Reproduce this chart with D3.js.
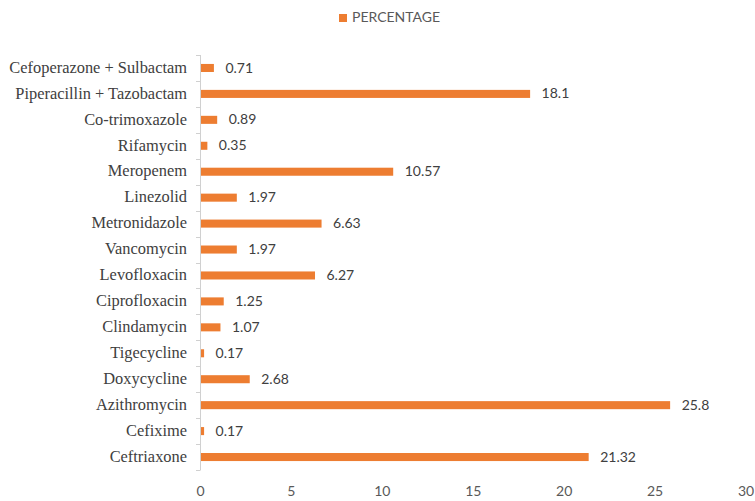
<!DOCTYPE html>
<html><head><meta charset="utf-8">
<script src="https://cdn.jsdelivr.net/npm/d3@7"></script>
<style>body{margin:0;background:#fff}</style>
</head><body>
<svg id="c" width="755" height="501"></svg>
<script>
const categories = ["Cefoperazone + Sulbactam","Piperacillin + Tazobactam","Co-trimoxazole","Rifamycin","Meropenem","Linezolid","Metronidazole","Vancomycin","Levofloxacin","Ciprofloxacin","Clindamycin","Tigecycline","Doxycycline","Azithromycin","Cefixime","Ceftriaxone"];
const values = [0.71,18.1,0.89,0.35,10.57,1.97,6.63,1.97,6.27,1.25,1.07,0.17,2.68,25.8,0.17,21.32];
const xTicks = [0,5,10,15,20,25,30];
const seriesName = "PERCENTAGE";

const svg = d3.select("#c");
const color = "#ED7D31";
const x = d3.scaleLinear().domain([0,30]).range([200.5,746]);
const y = d3.scaleBand().domain(categories).range([55,470]).paddingInner(0.69).paddingOuter(0.345);
const yb = d3.scaleBand().domain(categories).range([55,470]);

// axis line
svg.append("line").attr("x1",200.5).attr("x2",200.5).attr("y1",55).attr("y2",470)
  .attr("stroke","#d0d0d0").attr("stroke-width",1);
// ticks at boundaries
const bounds = categories.map(c=>yb(c)).concat([470]);
svg.selectAll(".tk").data(bounds).enter().append("line")
  .attr("x1",196).attr("x2",200.5).attr("y1",d=>Math.round(d)+0.5).attr("y2",d=>Math.round(d)+0.5)
  .attr("stroke","#d0d0d0");

// bars
svg.selectAll(".bar").data(values).enter().append("rect")
  .attr("x",x(0)+0.5).attr("y",(d,i)=>y(categories[i]))
  .attr("width",d=>x(d)-x(0)).attr("height",y.bandwidth()).attr("fill",color);

// value labels
svg.selectAll(".vl").data(values).enter().append("text")
  .attr("x",d=>x(d)+12).attr("y",(d,i)=>y(categories[i])+y.bandwidth()/2+1)
  .attr("dominant-baseline","middle")
  .attr("font-family","Lato, 'Open Sans', sans-serif").attr("font-size",14)
  .attr("fill","#404040").text(d=>d);

// category labels
svg.selectAll(".cl").data(categories).enter().append("text")
  .attr("x",187).attr("y",d=>yb(d)+yb.bandwidth()/2+1)
  .attr("text-anchor","end").attr("dominant-baseline","middle")
  .attr("font-family","'Liberation Serif','Times New Roman',serif").attr("font-size",16.4)
  .attr("fill","#404040").text(d=>d);

// x tick labels
svg.selectAll(".xl").data(xTicks).enter().append("text")
  .attr("x",d=>x(d)).attr("y",492).attr("text-anchor","middle").attr("dominant-baseline","middle")
  .attr("font-family","Lato, 'Open Sans', sans-serif").attr("font-size",14)
  .attr("fill","#595959").text(d=>d);

// legend
svg.append("rect").attr("x",339).attr("y",14).attr("width",8).attr("height",8).attr("fill",color);
svg.append("text").attr("x",352).attr("y",18.5).attr("dominant-baseline","middle")
  .attr("font-family","Lato, 'Open Sans', sans-serif").attr("font-size",14)
  .attr("fill","#595959").text(seriesName);
</script>
</body></html>
